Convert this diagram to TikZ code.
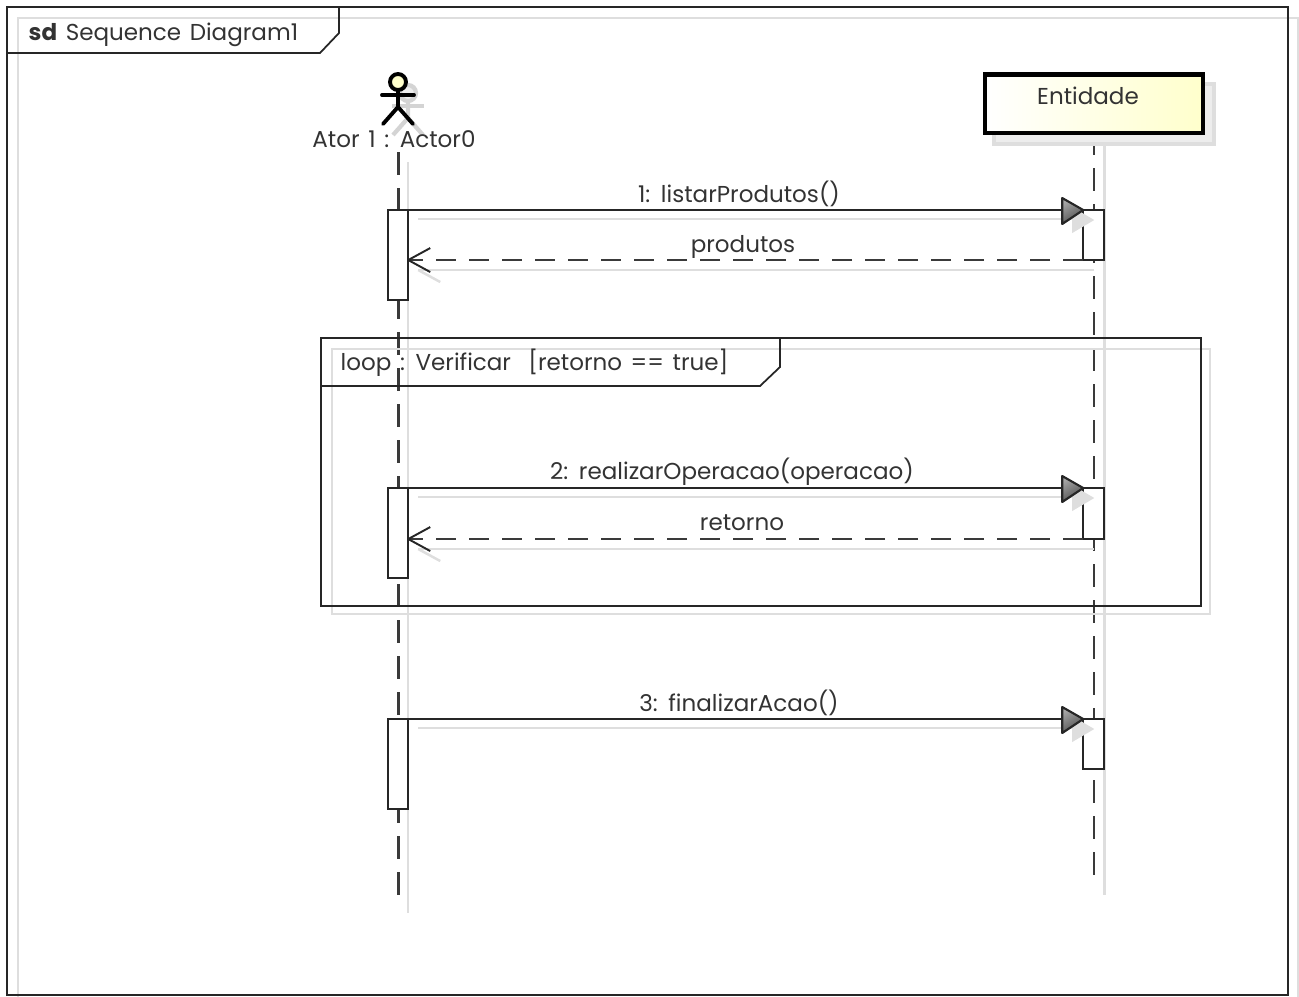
\documentclass[tikz,border=0pt]{standalone}
\usepackage{fontspec}
\setmainfont[WordSpace=1.4]{Poppins}
\definecolor{LineDark}{HTML}{3A3A3A}
\definecolor{ShadowGray}{HTML}{DEDEDE}
\definecolor{ShadowFill}{HTML}{EDEDED}
\definecolor{BoxYellow}{HTML}{FFFFCC}
\tikzset{
    lifeline/.style={color=LineDark,line width=0.58pt,dash pattern=on 0.23cm off 0.13cm},
    shadowline/.style={color=ShadowGray,line width=0.6pt},
    frameline/.style={color=black!85,line width=0.5pt},
    msgline/.style={color=black!85,line width=0.55pt},
    retline/.style={color=LineDark,line width=0.55pt,dash pattern=on 0.2cm off 0.13cm},
    actbox/.style={draw=black!85,fill=white,line width=0.5pt,inner sep=0pt,outer sep=0pt,minimum width=0.205cm},
    msglabel/.style={inner sep=0pt,color=black!80},
}
\newcommand\Activation[4]{%
    \node[actbox,minimum height=#4cm,anchor=north] (#1) at (#2,#3) {};
}
\newcommand\MsgCall[2]{%
    \draw[shadowline,line width=0.7pt] ([shift={(10,9)}]#1.north east) -- ([shift={(-8,9)}]#2.north west);
    \fill[ShadowGray] ([shift={(-11,-3)}]#2.north west) -- ++(0,26) -- ([shift={(11,10)}]#2.north west) -- cycle;
    \draw[msgline] (#1.north east) -- (#2.north west);
    \shadedraw[draw=black!85,line width=0.6pt,line join=round,left color=black!35,right color=black!70,shading angle=30]
        ([shift={(-21,-12)}]#2.north west) -- ++(0,26) -- (#2.north west) -- cycle;
}
\newcommand\MsgReturn[2]{%
    \draw[shadowline,line width=0.7pt] ([shift={(11,10)}]#1.south west) -- ([shift={(10,10)}]#1.south west -| #2.east);
    \draw[shadowline,line width=0.7pt] ([shift={(32,22)}]#1.south west -| #2.east) -- ([shift={(10,10)}]#1.south west -| #2.east);
    \draw[retline] (#1.south west) -- (#1.south west -| #2.east);
    \draw[msgline,line join=round] ([shift={(22,-12)}]#1.south west -| #2.east) -- (#1.south west -| #2.east) -- ([shift={(22,12)}]#1.south west -| #2.east);
}

\begin{document}
\begin{tikzpicture}[x=0.01cm,y=-0.01cm,font=\fontsize{6.55pt}{8pt}\selectfont]
    \useasboundingbox (0,0) rectangle (1299,996);
    % outer frame
    \draw[shadowline] (18,1010) -- (18,18) -- (1298,18) -- (1298,1010);
    \draw[frameline] (7,996) -- (7,7) -- (1288,7) -- (1288,995) -- (7,995);
    \draw[frameline] (7,53) -- (320,53) -- (339,33) -- (339,7);
    \node[msglabel,anchor=west] (FrameTitle) at (28,34.5) {\textbf{sd} Sequence Diagram1};
    % shadows of the lifelines
    \coordinate (ActorEnd) at (398.5,900);
    \coordinate (ActorStart) at (398.5,152);
    \coordinate (EntityStart) at (1094,132);
    \coordinate (EntityEnd) at (1094,880);
    \draw[shadowline] (408,162) -- (408,913);
    \draw[shadowline] (1104.5,145) -- (1104.5,895);
    \draw[lifeline] (ActorStart) -- (ActorEnd);
    \draw[lifeline] (EntityStart) -- (EntityEnd);
    % actor
    \begin{scope}[draw=black!17,line width=1.2pt,shift={(10,11)}]
        \draw[fill=ShadowFill] (398,82) circle (8);
        \draw (382,95) -- (414,95);
        \draw (398,90) -- (398,107) -- (383,124);
        \draw (398,107) -- (413,124);
    \end{scope}
    \begin{scope}[color=black,line width=1.1pt,line cap=round]
        \draw[fill=BoxYellow] (398,82) circle (8);
        \draw (382,95) -- (414,95);
        \draw (398,90) -- (398,107) -- (383,124);
        \draw (398,107) -- (413,124);
    \end{scope}
    \node[msglabel] (ActorLabel) at (394,139.5) {Ator 1 : Actor0};
    % entity
    \draw[ShadowGray,fill=ShadowFill,line width=1.1pt] (994,84) rectangle (1214,144);
    \node[draw=black,line width=1.15pt,left color=white,right color=BoxYellow,minimum width=2.17cm,minimum height=0.58cm,inner sep=0pt] (Entity) at (1094,103.5) {};
    \node[msglabel] (EntityLabel) at (1088,96) {Entidade};
    % loop
    \draw[shadowline] (780,349) -- (1210,349) -- (1210,614) -- (332,614) -- (332,349) -- (780,349);
    \draw[frameline] (321,338) rectangle (1201,606);
    \draw[frameline] (321,386) -- (760,386) -- (780,367) -- (780,338);
    \node[msglabel,anchor=west] (LoopLabel) at (340,363) {loop : Verificar\ \ [retorno == true]};
    % activations
    \Activation{ActorOne}{398}{210}{0.9}
    \Activation{EntityOne}{1093.5}{210}{0.5}
    \Activation{ActorTwo}{398}{488}{0.9}
    \Activation{EntityTwo}{1093.5}{488}{0.51}
    \Activation{ActorThree}{398}{719}{0.9}
    \Activation{EntityThree}{1093.5}{719}{0.5}
    % messages
    \MsgCall{ActorOne}{EntityOne}
    \MsgReturn{EntityOne}{ActorOne}
    \MsgCall{ActorTwo}{EntityTwo}
    \MsgReturn{EntityTwo}{ActorTwo}
    \MsgCall{ActorThree}{EntityThree}
    \node[msglabel] (ListLabel) at (739,194) {1: listarProdutos()};
    \node[msglabel] (ProdLabel) at (743,246.5) {produtos};
    \node[msglabel] (OperLabel) at (732,472) {2: realizarOperacao(operacao)};
    \node[msglabel] (RetLabel) at (742,523) {retorno};
    \node[msglabel] (EndLabel) at (739,703) {3: finalizarAcao()};
\end{tikzpicture}
\end{document}
